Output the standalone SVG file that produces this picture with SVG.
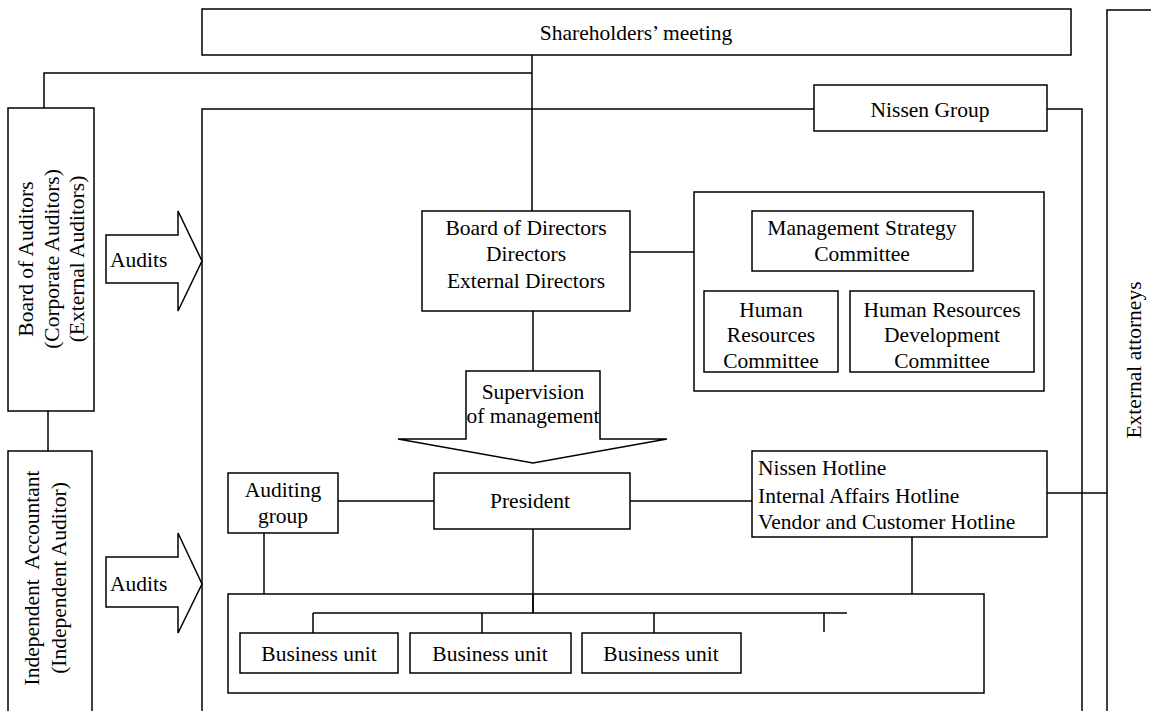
<svg xmlns="http://www.w3.org/2000/svg" width="1151" height="711" viewBox="0 0 1151 711">
<style>
.b{fill:#fff;stroke:#000;stroke-width:1.5}
.l{fill:none;stroke:#000;stroke-width:1.5}
text{font-family:"Liberation Serif","Times New Roman",serif;font-size:21.5px;fill:#000}
.c{text-anchor:middle}
</style>
<rect width="1151" height="711" fill="#fff"/>
<g id="connectors">
<path class="l" d="M44,108 V73 H532 M532,55 V211"/>
<path class="l" d="M48,411 V451"/>
<path class="l" d="M630,252 H694"/>
<path class="l" d="M533,311 V371"/>
<path class="l" d="M338,501 H434 M630,501 H752"/>
<path class="l" d="M264,533 V594"/>
<path class="l" d="M912,537 V594"/>
<path class="l" d="M1047,493 H1107"/>
<path class="l" d="M533,529 V613 M313,613 H847 M313,613 V633 M482,613 V633 M654,613 V633 M824,613 V632"/>
</g>
<g id="nissen-frame"><path class="l" d="M814,109 H202 V720 M1047,109 H1082 V720"/></g>
<g id="shareholders"><rect class="b" x="202" y="9" width="869" height="46"/><text class="c" x="636" y="40">Shareholders’ meeting</text></g>
<g id="nissen-group"><rect class="b" x="814" y="85" width="233" height="46"/><text class="c" x="930" y="117">Nissen Group</text></g>
<g id="external-attorneys"><rect class="b" x="1107" y="10" width="60" height="720"/><text class="c" x="1141" y="360" transform="rotate(-90 1141 360)">External attorneys</text></g>
<g id="board-of-auditors"><rect class="b" x="8" y="108" width="86" height="303"/>
<text class="c" transform="rotate(-90 33 259)" x="33" y="259">Board of Auditors</text>
<text class="c" transform="rotate(-90 59 259)" x="59" y="259">(Corporate Auditors)</text>
<text class="c" transform="rotate(-90 84 259)" x="84" y="259">(External Auditors)</text></g>
<g id="independent-accountant"><rect class="b" x="8" y="451" width="84" height="280"/>
<text class="c" transform="rotate(-90 39 578)" x="39" y="578" xml:space="preserve">Independent  Accountant</text>
<text class="c" transform="rotate(-90 66 578)" x="66" y="578">(Independent Auditor)</text></g>
<g id="audits-1"><path class="b" d="M106,235 H178 V211 L202,261 L178,311 V283 H106 Z"/><text x="110" y="267">Audits</text></g>
<g id="audits-2"><path class="b" d="M106,557 H178 V533 L202,584 L178,633 V607 H106 Z"/><text x="110" y="591">Audits</text></g>
<g id="board-of-directors"><rect class="b" x="422" y="211" width="208" height="100"/>
<text class="c" x="526" y="235">Board of Directors</text><text class="c" x="526" y="261">Directors</text><text class="c" x="526" y="288">External Directors</text></g>
<g id="committees"><rect class="b" x="694" y="192" width="350" height="199"/></g>
<g id="management-strategy-committee"><rect class="b" x="752" y="211" width="221" height="60"/>
<text class="c" x="862" y="235">Management Strategy</text><text class="c" x="862" y="261">Committee</text></g>
<g id="hr-committee"><rect class="b" x="704" y="291" width="134" height="81"/>
<text class="c" x="771" y="317">Human</text><text class="c" x="771" y="342">Resources</text><text class="c" x="771" y="368">Committee</text></g>
<g id="hrd-committee"><rect class="b" x="850" y="291" width="184" height="81"/>
<text class="c" x="942" y="317">Human Resources</text><text class="c" x="942" y="342">Development</text><text class="c" x="942" y="368">Committee</text></g>
<g id="supervision"><path class="b" d="M466,371 H600 V439 H667 L533,463 L398,439 H466 Z"/>
<text class="c" x="533" y="399">Supervision</text><text class="c" x="533" y="423">of management</text></g>
<g id="president"><rect class="b" x="434" y="473" width="196" height="56"/><text class="c" x="530" y="508">President</text></g>
<g id="auditing-group"><rect class="b" x="228" y="473" width="110" height="60"/>
<text class="c" x="283" y="497">Auditing</text><text class="c" x="283" y="523">group</text></g>
<g id="hotlines"><rect class="b" x="752" y="451" width="295" height="86"/>
<text x="758" y="475">Nissen Hotline</text><text x="758" y="503">Internal Affairs Hotline</text><text x="758" y="529">Vendor and Customer Hotline</text></g>
<g id="business-area"><rect class="l" x="228" y="594" width="756" height="99"/>
<path class="l" d="M533,594 V613"/></g>
<g id="business-unit-1"><rect class="b" x="240" y="633" width="158" height="40"/><text class="c" x="319" y="661">Business unit</text></g>
<g id="business-unit-2"><rect class="b" x="410" y="633" width="161" height="40"/><text class="c" x="490" y="661">Business unit</text></g>
<g id="business-unit-3"><rect class="b" x="582" y="633" width="159" height="40"/><text class="c" x="661" y="661">Business unit</text></g>
</svg>
